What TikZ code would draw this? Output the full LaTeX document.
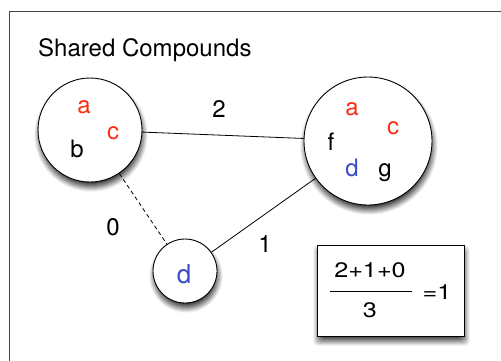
\documentclass[tikz,border=0pt]{standalone}
\usepackage{fontspec}
\setmainfont{TeX Gyre Heros}
\newfontfamily\widefont{TeX Gyre Heros}[FakeStretch=1.2]
\definecolor{cpdred}{RGB}{250,45,15}
\definecolor{cpdblue}{RGB}{60,75,200}
\definecolor{framegray}{RGB}{70,70,70}
\tikzset{
  compound/.style={circle, draw, line width=0.9pt, fill=white, inner sep=0pt},
  letter/.style={anchor=base, inner sep=0pt, font=\fontsize{24}{28}\selectfont},
  link/.style={line width=0.8pt},
}
\begin{document}
\begin{tikzpicture}[x=1pt,y=1pt,yscale=-1]
\useasboundingbox (0,0) rectangle (501,360);

%Shape: Frame
\draw [framegray, line width=1pt] (9.5,380) -- (9.5,11.5) -- (520,11.5) ;

% Text Node
\node (title) [letter, anchor=base west] at (38,56) {Shared Compounds};

%Shadows
\foreach \cx/\cy/\r in {90/130/52, 368/141/64, 185/271/32}
  \foreach \s in {0,...,10}
    \fill [black!\the\numexpr 3+\s*8\relax] (\cx+1,\cy+5) circle [radius={(\r+5-\s)*1pt}];
\foreach \s in {0,...,10}
  \fill [black!\the\numexpr 3+\s*8\relax, rounded corners=4pt] (317+1-5+\s,245+5-5+\s) rectangle (464+1+5-\s,336+5+5-\s);

%Shape: Circle
\node (left) [compound, minimum size=104pt] at (90,130) {};
%Shape: Circle
\node (right) [compound, minimum size=128pt] at (368,141) {};
%Shape: Circle
\node (small) [compound, minimum size=64pt] at (185,271) {};

%Straight Lines
\draw [link] (left) -- (right) ;
%Straight Lines
\draw [link, dash pattern=on 4pt off 3pt] (left) -- (small) ;
%Straight Lines
\draw [link] (small) -- (right) ;

% Text Node
\node (la) [letter, cpdred] at (84,113.5) {a};
\node (lc) [letter, cpdred] at (113,139) {c};
\node (lb) [letter] at (77,157) {b};
% Text Node
\node (ra) [letter, cpdred] at (352,115) {a};
\node (rc) [letter, cpdred] at (393,134) {c};
\node (rf) [letter] at (331,150) {f};
\node (rd) [letter, cpdblue] at (352,176.5) {d};
\node (rg) [letter] at (385,176.5) {g};
% Text Node
\node (sd) [letter, cpdblue, font=\fontsize{26}{30}\selectfont] at (184,283) {d};

% Text Node
\node (w2) [letter] at (219,117) {2};
\node (w0) [letter] at (113,235) {0};
\node (w1) [letter] at (265,252) {1};

%Shape: Rectangle
\node (box) [draw, line width=0.9pt, fill=white, minimum width=147pt, minimum height=91pt] at (390.5,290.5) {};
% Text Node
\node (num) [letter, font=\fontsize{21}{24}\widefont] at (370,277) {2+1+0};
\node (den) [letter, font=\fontsize{21}{24}\widefont] at (370,317) {3};
\node (res) [letter, font=\fontsize{21}{24}\widefont] at (437,299) {=1};
\coordinate (barl) at (330,291);
\coordinate (barr) at (412,291);
\draw [line width=0.8pt] (barl) -- (barr) ;

\end{tikzpicture}
\end{document}
